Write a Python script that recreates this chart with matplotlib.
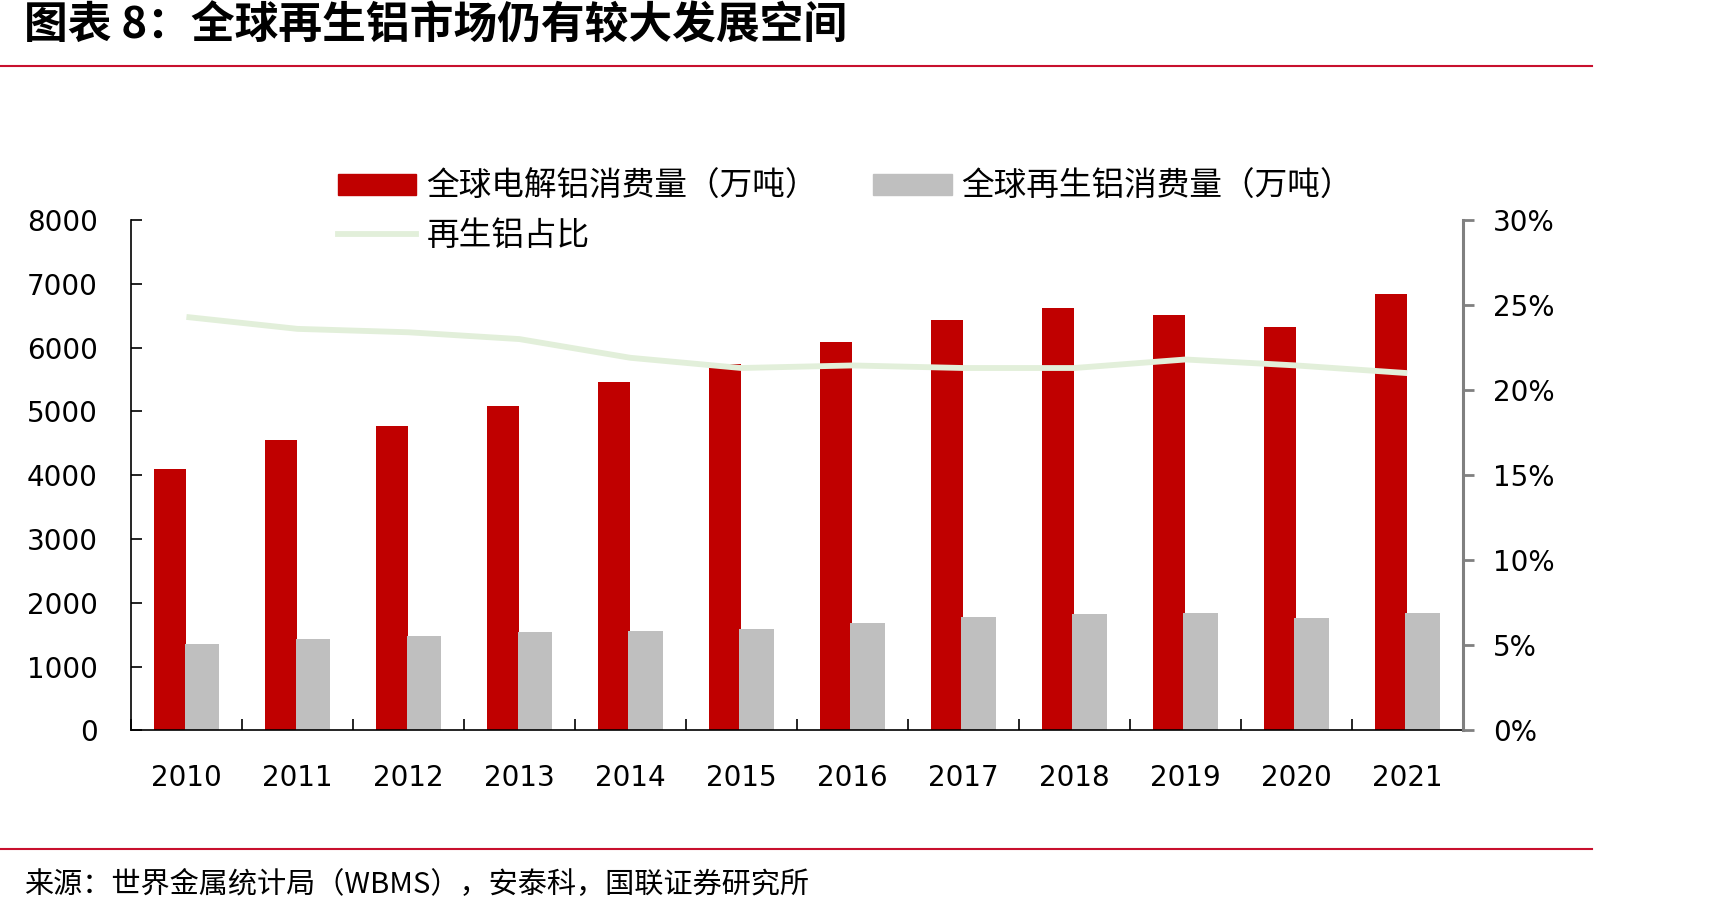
import matplotlib
matplotlib.use('Agg')
import matplotlib.pyplot as plt
import numpy as np
from matplotlib.patches import Patch
from matplotlib.lines import Line2D
from matplotlib.ticker import FuncFormatter

plt.rcParams['font.family'] = ['Noto Sans CJK SC', 'DejaVu Sans']

years = ['2010', '2011', '2012', '2013', '2014', '2015',
         '2016', '2017', '2018', '2019', '2020', '2021']
primary = [4095, 4545, 4770, 5090, 5460, 5740, 6086, 6431, 6621, 6517, 6328, 6845]
secondary = [1352, 1430, 1476, 1545, 1556, 1586, 1690, 1776, 1828, 1845, 1759, 1845]
share = [24.3, 23.6, 23.4, 23.0, 21.9, 21.3, 21.45, 21.3, 21.3, 21.8, 21.45, 21.0]

RED = '#C00000'
GRAY = '#BFBFBF'
GREEN = '#E2EFDA'
LINE_RED = '#C8102E'

fig = plt.figure(figsize=(17.25, 9.15), dpi=100)
ax = fig.add_axes([0.0759, 0.2017, 0.848 - 0.0759, 0.7596 - 0.2017])

x = np.arange(len(years))
b1 = ax.bar(x - 0.5 + 0.207, primary, 0.286, align='edge', color=RED, zorder=2)
b2 = ax.bar(x - 0.5 + 0.483, secondary, 0.31, align='edge', color=GRAY, zorder=2)

ax.set_xlim(-0.5, len(years) - 0.5)
ax.set_ylim(0, 8000)
ax.set_yticks(np.arange(0, 8001, 1000))
ax.set_xticks(x)
ax.set_xticklabels(years)
ax.set_xticks(np.arange(-0.5, len(years)), minor=True)
ax.tick_params(axis='x', which='major', length=0, pad=24, labelsize=20)
ax.tick_params(axis='x', which='minor', direction='in', length=8, width=1.2)
ax.tick_params(axis='y', direction='in', length=8, width=1.2, pad=24, labelsize=20)
for lab in ax.get_xticklabels() + ax.get_yticklabels():
    lab.set_family('DejaVu Sans')
ax.spines['top'].set_visible(False)
ax.spines['right'].set_visible(False)
ax.spines['left'].set_linewidth(1.2)
ax.spines['bottom'].set_linewidth(1.2)
ax.spines['bottom'].set_zorder(3)

ax2 = ax.twinx()
ax2.plot(x, share, color=GREEN, lw=4.2, solid_capstyle='butt', zorder=3)
ax2.set_ylim(0, 30)
ax2.set_yticks(np.arange(0, 31, 5))
ax2.yaxis.set_major_formatter(FuncFormatter(lambda v, p: '%d%%' % v))
ax2.tick_params(axis='y', direction='out', length=8, width=2, color='#808080',
                pad=14, labelsize=20)
for lab in ax2.get_yticklabels():
    lab.set_family('DejaVu Sans')
for s in ('top', 'left', 'bottom'):
    ax2.spines[s].set_visible(False)
ax2.spines['right'].set_color('#808080')
ax2.spines['right'].set_linewidth(2.2)

handles = [Patch(color=RED), Line2D([], [], color=GREEN, lw=4.2), Patch(color=GRAY)]
labels = ['全球电解铝消费量（万吨）', '再生铝占比', '全球再生铝消费量（万吨）']
fig.legend(handles, labels, ncol=2, loc='upper left',
           bbox_to_anchor=(0.196, 0.813), frameon=False, fontsize=23.5,
           handlelength=2.4, handleheight=0.6, handletextpad=0.3,
           columnspacing=1.7, labelspacing=0.52, borderpad=0, borderaxespad=0)

fig.text(0.014, 0.972, '图表 8：全球再生铝市场仍有较大发展空间', fontsize=31.5,
         fontweight='bold', style='italic', va='center', ha='left')
fig.add_artist(Line2D([0, 0.923], [0.928, 0.928], color=LINE_RED, lw=1.5))
fig.add_artist(Line2D([0, 0.923], [0.072, 0.072], color=LINE_RED, lw=1.5))
fig.text(0.014, 0.033, '来源：世界金属统计局（WBMS），安泰科，国联证券研究所',
         fontsize=21, va='center', ha='left')

fig.savefig('out.png', dpi=100)
